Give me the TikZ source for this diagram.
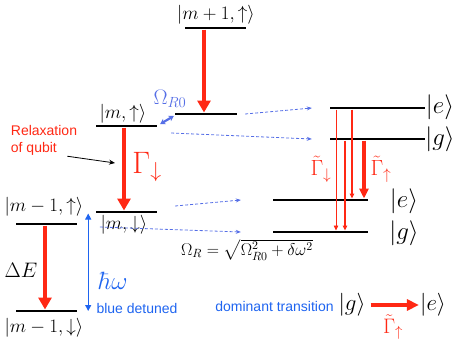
\RequirePackage{fix-cm}
\documentclass[tikz,border=0pt]{standalone}
\usepackage{amsmath,amssymb}
\usepackage{fontspec}
\setsansfont{Liberation Sans}
\usepackage{tikz}
\usetikzlibrary{arrows.meta}
\definecolor{qubit_red}{RGB}{255,40,20}
\definecolor{qubit_blue}{RGB}{30,100,240}
\definecolor{dress_blue}{RGB}{85,110,230}

\begin{document}
\begin{tikzpicture}[x=1pt, y=-1pt,
    lvl/.style={fill=black, inner sep=0pt, minimum height=2.6pt, minimum width=#1},
    lvl/.default=61pt,
    state/.style={inner sep=1pt, font=\fontsize{19}{21}\selectfont},
    dressed/.style={inner sep=1pt, font=\fontsize{25}{28}\selectfont},
    decay/.style={draw=qubit_red, line width=4pt, -{Triangle[width=13pt,length=12pt]}},
    weak/.style={draw=qubit_red, line width=#1, -{Triangle[width=4.5pt,length=5pt]}},
    weak/.default=0.8pt,
    coupling/.style={draw=dress_blue, line width=0.8pt, dash pattern=on 3pt off 2pt,
      -{Stealth[width=4pt,length=5pt]}},
    sans/.style={font=\sffamily\fontsize{14}{17}\selectfont}]
  \useasboundingbox (0,0) rectangle (456,346);

  % bare levels, left ladder
  \node[lvl] (mp1) at (215.5,28) {};
  \node[lvl=62pt] (mupB) at (206,114) {};
  \node[lvl] (mup) at (126.5,126) {};
  \node[lvl] (mdn) at (126.5,212) {};
  \node[lvl] (m1up) at (46.5,224) {};
  \node[lvl] (m1dn) at (46.5,311) {};
  \node[state] (mp1lab) at (216,15) {$|m+1,\uparrow\rangle$};
  \node[state] (muplab) at (123,114) {$|m,\uparrow\rangle$};
  \node[state] (mdnlab) at (124,225) {$|m,\downarrow\rangle$};
  \node[state] (m1uplab) at (44,207) {$|m-1,\uparrow\rangle$};
  \node[state] (m1dnlab) at (44,328) {$|m-1,\downarrow\rangle$};

  % decays between bare levels
  \draw[decay] ([xshift=-11.5pt]mp1.south) -- ([xshift=-11.5pt]mp1.south |- mupB.north);
  \draw[decay] ([xshift=-2.5pt]mup.south) -- ([xshift=-2.5pt]mup.south |- mdn.north);
  \draw[decay] ([xshift=-1.5pt]m1up.south) -- ([xshift=-1.5pt]m1up.south |- m1dn.north);
  \node[text=qubit_red, font=\fontsize{31}{33}\selectfont] (gdn) at (147,167) {$\Gamma_{\downarrow}$};
  \node[font=\fontsize{21}{23}\selectfont] (dE) at (21,270) {$\Delta E$};

  % drive photon
  \draw[draw=qubit_blue, line width=0.9pt, {Triangle[width=6pt,length=6pt]}-{Triangle[width=6pt,length=6pt]}]
    ([xshift=11pt]m1dn.east) -- ([xshift=11pt]m1dn.east |- mdn.south);
  \node[text=qubit_blue, font=\fontsize{25}{27}\selectfont] (hw) at (113,281) {$\hbar\omega$};
  \node[sans, text=qubit_blue] (blue) at (137,308) {blue detuned};

  % Rabi coupling
  \draw[draw=dress_blue, line width=2.2pt, {Stealth[width=6pt,length=5pt]}-{Stealth[width=6pt,length=5pt]}]
    ([xshift=3pt,yshift=2pt]mup.east) -- ([xshift=-1pt,yshift=-2pt]mupB.west);
  \node[text=dress_blue, font=\fontsize{21}{23}\selectfont] (rabi) at (170,99) {$\Omega_{R0}$};

  % relaxation note
  \node[sans, text=qubit_red, align=left, inner sep=0pt] (relax) at (44,140) {Relaxation\\of qubit};
  \coordinate (relaxtip) at (115,163);
  \draw[-{Stealth[width=5pt,length=6pt]}, line width=0.8pt] ([xshift=-10pt,yshift=-1pt]relax.south east) -- (relaxtip);

  % dressed levels
  \node[lvl=95pt] (Re) at (377.5,108) {};
  \node[lvl=95pt] (Rg) at (377.5,139) {};
  \node[lvl=95pt] (Le) at (320.5,200) {};
  \node[lvl=95pt] (Lg) at (320.5,232) {};
  \node[dressed] (Relab) at (440,107) {$|e\rangle$};
  \node[dressed] (Rglab) at (440,139) {$|g\rangle$};
  \node[dressed] (Lelab) at (404,201) {$|e\rangle$};
  \node[dressed] (Lglab) at (404,233) {$|g\rangle$};

  % mapping bare -> dressed
  \draw[coupling] ([xshift=8pt]mupB.east) -- ([xshift=-18pt]Re.west);
  \draw[coupling] ([xshift=14pt,yshift=-7pt]mup.east) -- ([xshift=-18pt]Rg.west);
  \draw[coupling] ([xshift=18pt,yshift=6pt]mdn.east) -- ([xshift=-32pt]Le.west);
  \draw[coupling] ([xshift=4pt,yshift=-15pt]mdn.west) -- ([xshift=-32pt]Lg.west);

  % transitions between dressed levels
  \draw[weak] ([xshift=-41.5pt]Re.south) -- ([xshift=-41.5pt]Re.south |- Lg.north);
  \draw[weak=1.3pt] ([xshift=-25.5pt]Re.south) -- ([xshift=-25.5pt]Re.south |- Le.north);
  \draw[weak=1.3pt] ([xshift=-32.5pt]Rg.south) -- ([xshift=-32.5pt]Rg.south |- Lg.north);
  \draw[draw=qubit_red, line width=3.5pt, -{Triangle[width=9pt,length=10pt]}]
    ([xshift=-13.5pt]Rg.south) -- ([xshift=-13.5pt]Rg.south |- Le.north);
  \node[text=qubit_red, font=\fontsize{22}{24}\selectfont] (gtdn) at (321,169) {$\tilde{\Gamma}_{\downarrow}$};
  \node[text=qubit_red, font=\fontsize{22}{24}\selectfont] (gtup) at (381,169) {$\tilde{\Gamma}_{\uparrow}$};

  \node[font=\fontsize{17}{19}\selectfont] (omr) at (247,250) {$\Omega_R=\sqrt{\Omega_{R0}^2+\delta\omega^2}$};

  % dominant transition
  \node[sans, text=qubit_blue] (dom) at (274.5,306) {dominant transition};
  \node[inner sep=1pt, font=\fontsize{23}{25}\selectfont] (gb) at (352,305) {$|g\rangle$};
  \node[inner sep=1pt, font=\fontsize{23}{25}\selectfont] (eb) at (433,305) {$|e\rangle$};
  \draw[draw=qubit_red, line width=4.5pt, -{Triangle[width=11pt,length=12pt]}, shorten <=4pt] (gb) -- (eb);
  \node[text=qubit_red, font=\fontsize{21}{23}\selectfont] (gtb) at (393,327) {$\tilde{\Gamma}_{\uparrow}$};
\end{tikzpicture}
\end{document}
